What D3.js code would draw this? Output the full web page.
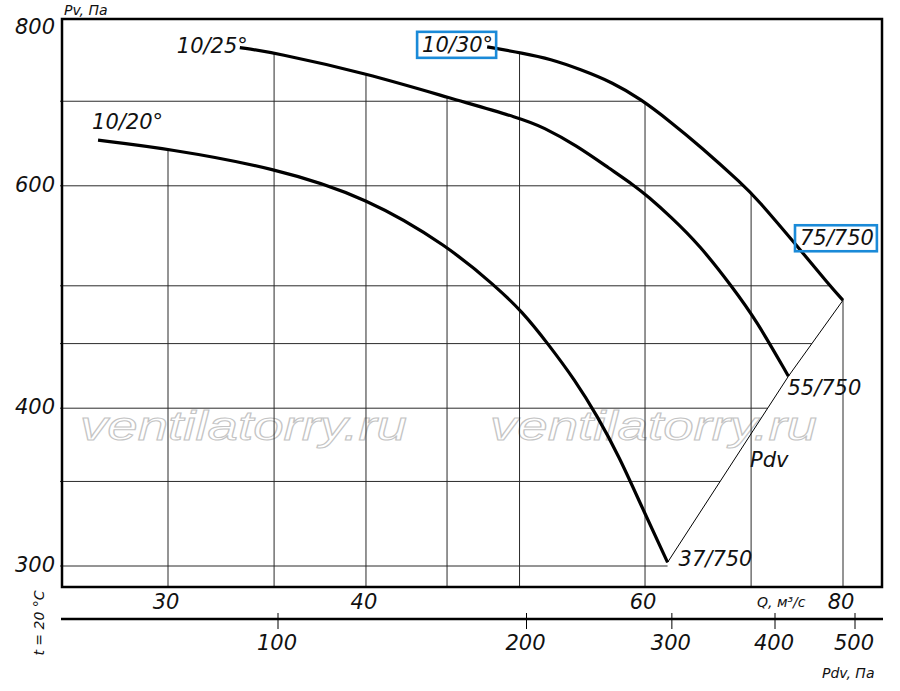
<!DOCTYPE html>
<html>
<head>
<meta charset="utf-8">
<script src="https://cdn.jsdelivr.net/npm/d3@7"></script>
<style>
  body { margin: 0; background: #fff; }
  text { font-family: "DejaVu Sans", sans-serif; font-style: italic; fill: #111; }
</style>
</head>
<body>
<svg id="chart" width="900" height="691"></svg>
<script>
// pressure axis (Pv, Pa) - log scale
const pvLabels = [800, 600, 400, 300];
const pvGrid = [700, 600, 500, 450, 400, 350, 300];
// flow axis (Q, m3/s) - log scale
const qLabels = [30, 40, 60, 80];
const qGrid = [30, 35, 40, 45, 50, 60, 70, 80];
// dynamic pressure axis (Pdv, Pa)
const pdvTicks = [100, 200, 300, 400, 500];

// curves, blade angle 20 / 25 / 30 deg
const curveNames = ["10/20°", "10/25°", "10/30°"];
const endNames = ["37/750", "55/750", "75/750"];

const q20 = [27.1, 30.0, 35.0, 40.1, 45.1, 48.25, 50.2, 52.1, 54.2, 56.0, 57.8, 59.6, 62.0];
const pv20 = [652, 642, 620, 587, 537, 500, 477, 450, 421, 394, 366, 336, 302];

const q25 = [33.3, 35.0, 40.1, 45.2, 50.2, 51.7, 54.3, 57.0, 59.0, 60.3, 62.2, 65.0, 68.1, 70.5, 73.9];
const pv25 = [772, 765, 736, 704, 678, 668, 646, 619, 601, 588, 568, 538, 499, 470, 424];

const q30 = [47.7, 50.25, 52.3, 54.6, 57.3, 59.6, 62.2, 65.0, 69.2, 70.5, 74.9, 78.5, 80];
const pv30 = [773, 764, 756, 742, 724, 703, 675, 645, 601, 587, 537, 500, 487];

const svg = d3.select("#chart");

const mLeft = 62, mRight = 882, mTop = 19, mBottom = 587;

const x = d3.scaleLog().domain([30, 80]).range([168, 843]);
const y = d3.scaleLog().domain([300, 800]).range([566, 28]);
const xPdv = d3.scaleLog().domain([100, 500]).range([278, 855]);

const curves = [[q20, pv20], [q25, pv25], [q30, pv30]].map(function (c) {
  return c[0].map(function (q, i) { return [x(q), y(c[1][i])]; });
});

// y of a curve at pixel x (null outside it)
function curveY(pts, px) {
  if (px < pts[0][0] - 0.5 || px > pts[pts.length - 1][0] + 0.5) return null;
  for (let i = 1; i < pts.length; i++) {
    if (px <= pts[i][0] + 0.5) {
      const t = Math.max(0, Math.min(1, (px - pts[i - 1][0]) / (pts[i][0] - pts[i - 1][0])));
      return pts[i - 1][1] + t * (pts[i][1] - pts[i - 1][1]);
    }
  }
  return null;
}

// outer boundary: 10/30 curve then the Pdv line through the curve ends
const ends = curves.map(function (c) { return c[c.length - 1]; });
const outer = curves[2].concat([ends[1], ends[0]]);
function outerX(py) {
  for (let i = 1; i < outer.length; i++) {
    const a = outer[i - 1], b = outer[i];
    if (py >= a[1] && py <= b[1] + 0.5) {
      const t = Math.min(1, (py - a[1]) / (b[1] - a[1]));
      return a[0] + t * (b[0] - a[0]);
    }
  }
  return outer[outer.length - 1][0];
}

// watermark
svg.selectAll(".wm").data([80, 490]).enter().append("text")
  .attr("x", function (d) { return d; })
  .attr("y", 440)
  .attr("textLength", 327)
  .attr("lengthAdjust", "spacingAndGlyphs")
  .style("font-family", "'Liberation Sans', Arial, sans-serif")
  .style("font-size", "41px")
  .style("fill", "none")
  .style("stroke", "#c4c4c4")
  .style("stroke-width", 1)
  .text("ventilatorry.ru");

// grid
const grid = svg.append("g").attr("stroke", "#2a2a2a").attr("stroke-width", 1);
pvGrid.forEach(function (v) {
  grid.append("line")
    .attr("x1", mLeft - 2).attr("x2", outerX(y(v)))
    .attr("y1", y(v)).attr("y2", y(v));
});
qGrid.forEach(function (v) {
  const px = x(v);
  const ys = curves.map(function (c) { return curveY(c, px); }).filter(function (d) { return d !== null; });
  grid.append("line")
    .attr("x1", px).attr("x2", px)
    .attr("y1", ys.length ? d3.min(ys) : mTop).attr("y2", mBottom);
});

// frame
svg.append("rect")
  .attr("x", mLeft).attr("y", mTop)
  .attr("width", mRight - mLeft).attr("height", mBottom - mTop)
  .attr("fill", "none").attr("stroke", "#000").attr("stroke-width", 2.5);

// Pdv line through curve ends
svg.append("path")
  .attr("d", d3.line()(ends))
  .attr("fill", "none").attr("stroke", "#000").attr("stroke-width", 1);

// curves
const line = d3.line().curve(d3.curveBasis);
svg.selectAll(".curve").data(curves).enter().append("path")
  .attr("d", line)
  .attr("fill", "none").attr("stroke", "#000").attr("stroke-width", 3.2);

// curve names
const nameOffsets = [[-6, -11, "start"], [8, 5, "end"], [6, 5, "end"]];
const nameText = svg.selectAll(".cname").data(curveNames).enter().append("text")
  .attr("x", function (d, i) { return curves[i][0][0] + nameOffsets[i][0]; })
  .attr("y", function (d, i) { return curves[i][0][1] + nameOffsets[i][1]; })
  .attr("text-anchor", function (d, i) { return nameOffsets[i][2]; })
  .style("font-size", "21px")
  .text(function (d) { return d; });

// end labels
const endOffsets = [[11, 4], [-1, 19], [-43, -55]];
const endText = svg.selectAll(".ename").data(endNames).enter().append("text")
  .attr("x", function (d, i) { return ends[i][0] + endOffsets[i][0]; })
  .attr("y", function (d, i) { return ends[i][1] + endOffsets[i][1]; })
  .style("font-size", "21px")
  .text(function (d) { return d; });

// blue boxes on 10/30 and 75/750
[nameText.nodes()[2], endText.nodes()[2]].forEach(function (n) {
  const b = n.getBBox();
  svg.append("rect")
    .attr("x", b.x - 5).attr("y", b.y - 1)
    .attr("width", b.width + 8).attr("height", b.height + 2)
    .attr("fill", "none").attr("stroke", "#1a8ad8").attr("stroke-width", 2.6);
});

svg.append("text").attr("x", 750).attr("y", 467)
  .style("font-size", "21px").text("Pdv");

// y labels
svg.selectAll(".ylab").data(pvLabels).enter().append("text")
  .attr("x", 55)
  .attr("y", function (d) { return y(d) + 6; })
  .attr("text-anchor", "end")
  .style("font-size", "21px")
  .text(function (d) { return d; });
svg.append("text").attr("x", 64).attr("y", 15)
  .style("font-size", "14px").text("Pv, Па");

// Q labels
svg.selectAll(".qlab").data(qLabels).enter().append("text")
  .attr("x", function (d) { return x(d) - 2; })
  .attr("y", 609)
  .attr("text-anchor", "middle")
  .style("font-size", "21px")
  .text(function (d) { return d; });
svg.append("text").attr("x", 757).attr("y", 607)
  .style("font-size", "14px").text("Q, м³/с");

// Pdv axis
svg.append("line")
  .attr("x1", mLeft - 1).attr("x2", mRight + 1)
  .attr("y1", 619).attr("y2", 619)
  .attr("stroke", "#000").attr("stroke-width", 2.5);
svg.selectAll(".ptick").data(pdvTicks).enter().append("line")
  .attr("x1", function (d) { return xPdv(d); })
  .attr("x2", function (d) { return xPdv(d); })
  .attr("y1", 613).attr("y2", 629)
  .attr("stroke", "#000").attr("stroke-width", 1);
svg.selectAll(".plab").data(pdvTicks).enter().append("text")
  .attr("x", function (d) { return xPdv(d) - 1; })
  .attr("y", 650)
  .attr("text-anchor", "middle")
  .style("font-size", "21px")
  .text(function (d) { return d; });
svg.append("text").attr("x", 822).attr("y", 678)
  .style("font-size", "14px").text("Pdv, Па");

svg.append("text")
  .attr("transform", "translate(44,623) rotate(-90)")
  .attr("text-anchor", "middle")
  .style("font-size", "14px")
  .text("t = 20 °C");
</script>
</body>
</html>
